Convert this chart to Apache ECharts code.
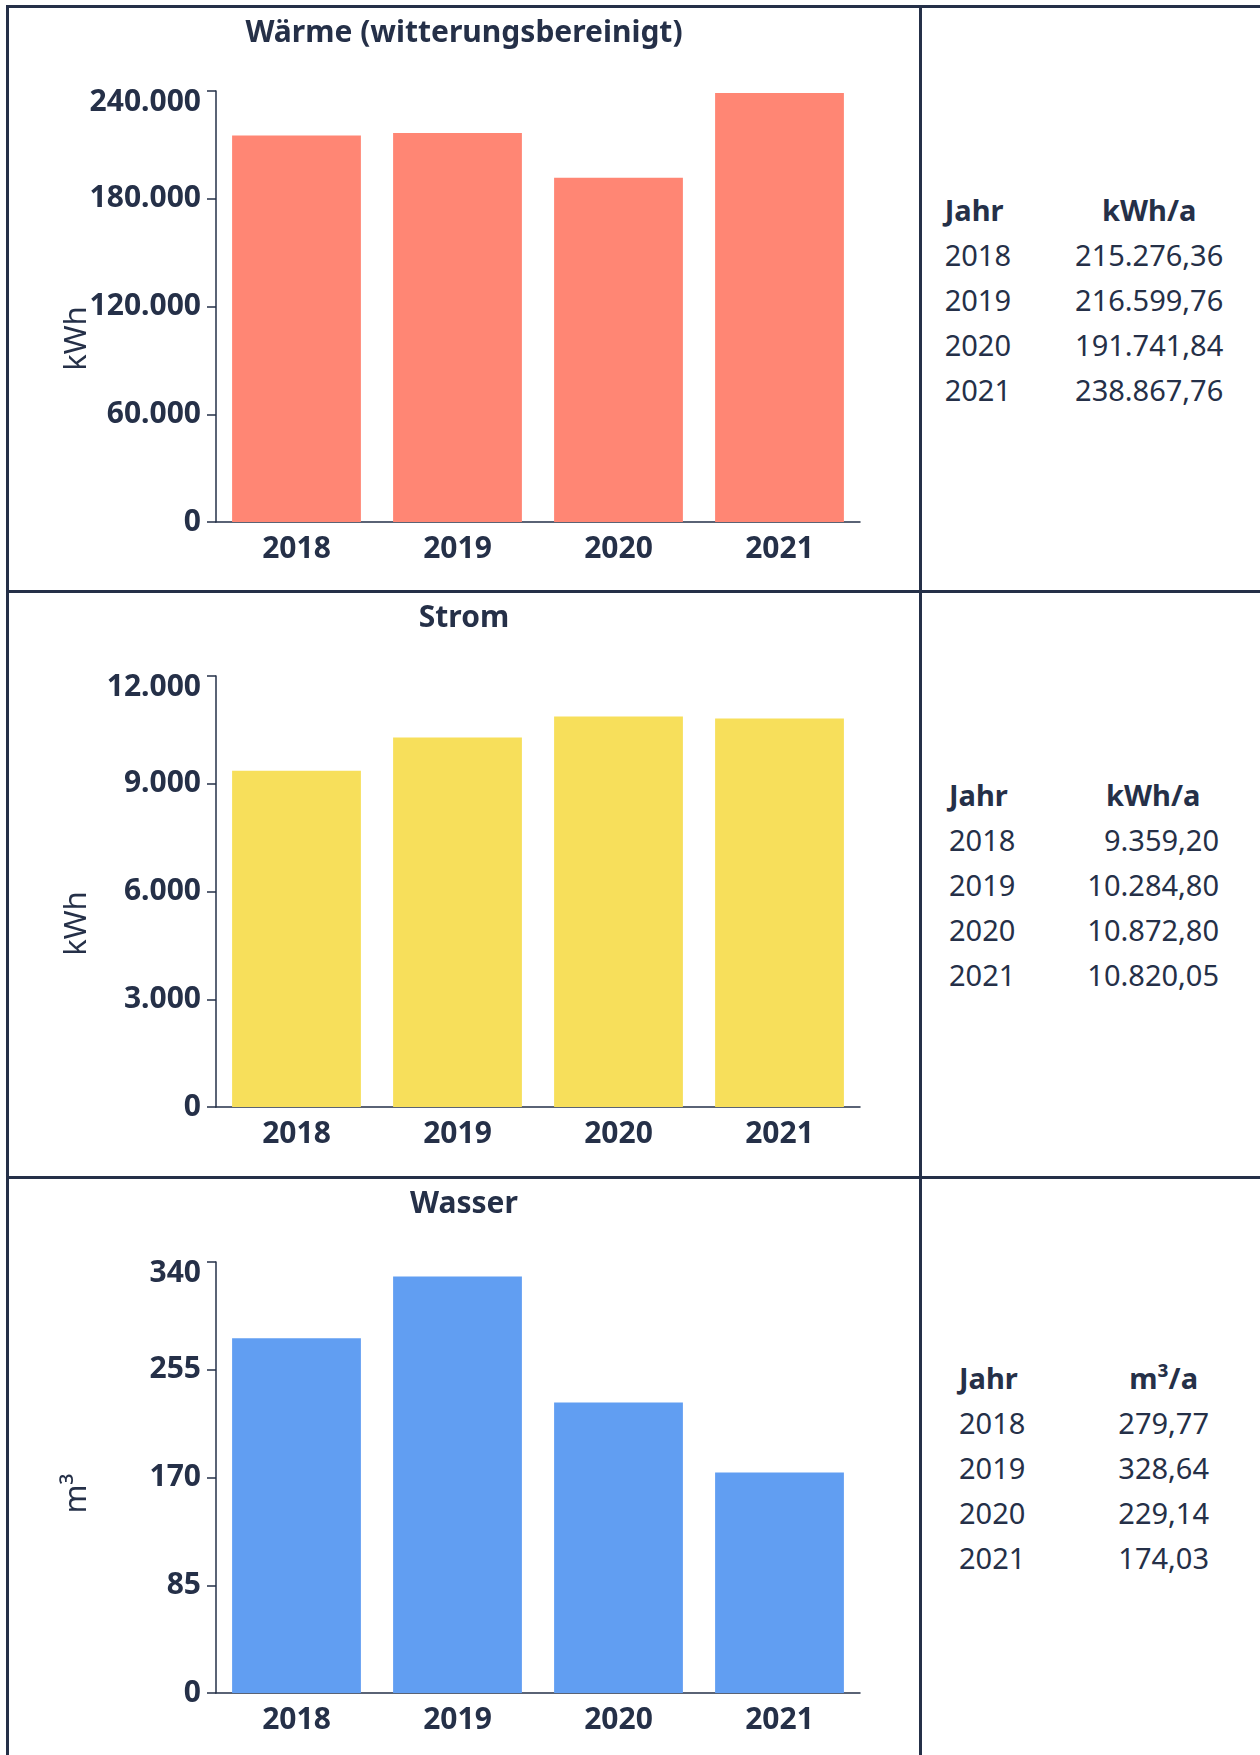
<!DOCTYPE html>
<html>
<head>
<meta charset="utf-8">
<script src="https://cdn.jsdelivr.net/npm/echarts@6/dist/echarts.min.js"></script>
<style>
    html, body { margin: 0; padding: 0; background: #fff; }
    body { width: 1260px; height: 1755px; overflow: hidden; position: relative; font-family: "Noto Sans", sans-serif; color: #253048; }
    .line { position: absolute; background: #253048; }
    .chart { position: absolute; left: 9px; width: 910px; }
    .side { position: absolute; left: 922px; width: 324px; display: flex; align-items: center; justify-content: center; }
    table { border-collapse: collapse; font-size: 29px; line-height: 45px; }
    td, th { padding: 0; white-space: nowrap; }
    th { font-weight: 700; }
    td.year, th.year { text-align: left; }
    td.val { text-align: right; }
    th.val { text-align: center; }
</style>
</head>
<body>
<div class="line" style="left:6px;top:5px;width:1254px;height:3px"></div>
<div class="line" style="left:6px;top:5px;width:3px;height:1750px"></div>
<div class="line" style="left:919px;top:5px;width:3px;height:1750px"></div>
<div class="line" style="left:6px;top:590px;width:1254px;height:3px"></div>
<div class="line" style="left:6px;top:1176px;width:1254px;height:3px"></div>

<div id="chartWaerme" class="chart" style="top:8px;height:582px"></div>
<div id="chartStrom" class="chart" style="top:593px;height:583px"></div>
<div id="chartWasser" class="chart" style="top:1179px;height:576px"></div>

<div id="tableWaerme" class="side" style="top:8px;height:582px"></div>
<div id="tableStrom" class="side" style="top:593px;height:583px"></div>
<div id="tableWasser" class="side" style="top:1179px;height:576px"></div>

<script>
const years = ['2018', '2019', '2020', '2021']

const waermeValues = [215276.36, 216599.76, 191741.84, 238867.76]
const stromValues = [9359.20, 10284.80, 10872.80, 10820.05]
const wasserValues = [279.77, 328.64, 229.14, 174.03]

const waermeTicks = [0, 60000, 120000, 180000, 240000]
const stromTicks = [0, 3000, 6000, 9000, 12000]
const wasserTicks = [0, 85, 170, 255, 340]

const TEXT = '#253048'
const FONT = '"Noto Sans", sans-serif'
const LABEL_SIZE = 30

// German number format: 1.234,56
function deNumber(v, digits) {
    const parts = v.toFixed(digits).split('.')
    parts[0] = parts[0].replace(/\B(?=(\d{3})+(?!\d))/g, '.')
    return parts.join(',')
}

function buildChart(el, title, unit, nameShift, values, ticks, color) {
    const chart = echarts.init(document.getElementById(el), null, { renderer: 'canvas' })
    const maxTick = ticks[ticks.length - 1]
    const labelStyle = { color: TEXT, fontFamily: FONT, fontWeight: 700, fontSize: LABEL_SIZE }
    chart.setOption({
        backgroundColor: '#fff',
        animation: false,
        title: {
            text: title,
            left: 'center',
            top: 5,
            textStyle: { ...labelStyle }
        },
        grid: { left: 207, right: 59, top: 83, height: 431 },
        xAxis: {
            type: 'category',
            data: years,
            axisLine: { lineStyle: { color: TEXT, width: 1.5 } },
            axisTick: { alignWithLabel: true, length: 8, lineStyle: { color: TEXT, width: 1.5 } },
            axisLabel: { ...labelStyle, margin: 12 }
        },
        yAxis: {
            type: 'value',
            min: ticks[0],
            max: maxTick,
            interval: ticks[1] - ticks[0],
            name: unit,
            nameLocation: 'middle',
            nameGap: 123,
            nameMoveOverlap: false,
            nameTextStyle: { color: TEXT, fontFamily: FONT, fontSize: 31, padding: [0, nameShift * 2, 0, 0] },
            axisLine: { show: true, lineStyle: { color: TEXT, width: 1.5 } },
            axisTick: { show: true, length: 9, lineStyle: { color: TEXT, width: 1.5 } },
            splitLine: { show: false },
            axisLabel: {
                ...labelStyle,
                margin: 15,
                formatter: v => v === maxTick ? '{top|' + deNumber(v, 0) + '}' : deNumber(v, 0),
                rich: { top: { ...labelStyle, padding: [23, 0, 0, 0] } }
            }
        },
        series: [{
            type: 'bar',
            data: values,
            barCategoryGap: '20%',
            itemStyle: { color: color }
        }]
    })
    return chart
}

function buildTable(el, unitLabel, values) {
    const box = document.getElementById(el)
    let html = '<table><tr><th class="year">Jahr</th><th class="val">' + unitLabel + '</th></tr>'
    years.forEach((y, i) => {
        html += '<tr><td class="year">' + y + '</td><td class="val"><span>' + deNumber(values[i], 2) + '</span></td></tr>'
    })
    html += '</table>'
    box.innerHTML = html
    // value column centre sits a fixed distance right of the year column
    let widest = 0
    box.querySelectorAll('td.val span').forEach(s => { widest = Math.max(widest, s.offsetWidth) })
    const gap = Math.round(138 - widest / 2)
    box.querySelectorAll('.year').forEach(c => { c.style.paddingRight = gap + 'px' })
}

const charts = {}
charts.waerme = buildChart('chartWaerme', 'Wärme (witterungsbereinigt)', 'kWh', 32, waermeValues, waermeTicks, '#FF8674')
charts.strom = buildChart('chartStrom', 'Strom', 'kWh', 32, stromValues, stromTicks, '#F7DF5B')
charts.wasser = buildChart('chartWasser', 'Wasser', 'm³', 16, wasserValues, wasserTicks, '#619EF2')

buildTable('tableWaerme', 'kWh/a', waermeValues)
buildTable('tableStrom', 'kWh/a', stromValues)
buildTable('tableWasser', 'm³/a', wasserValues)
</script>
</body>
</html>
